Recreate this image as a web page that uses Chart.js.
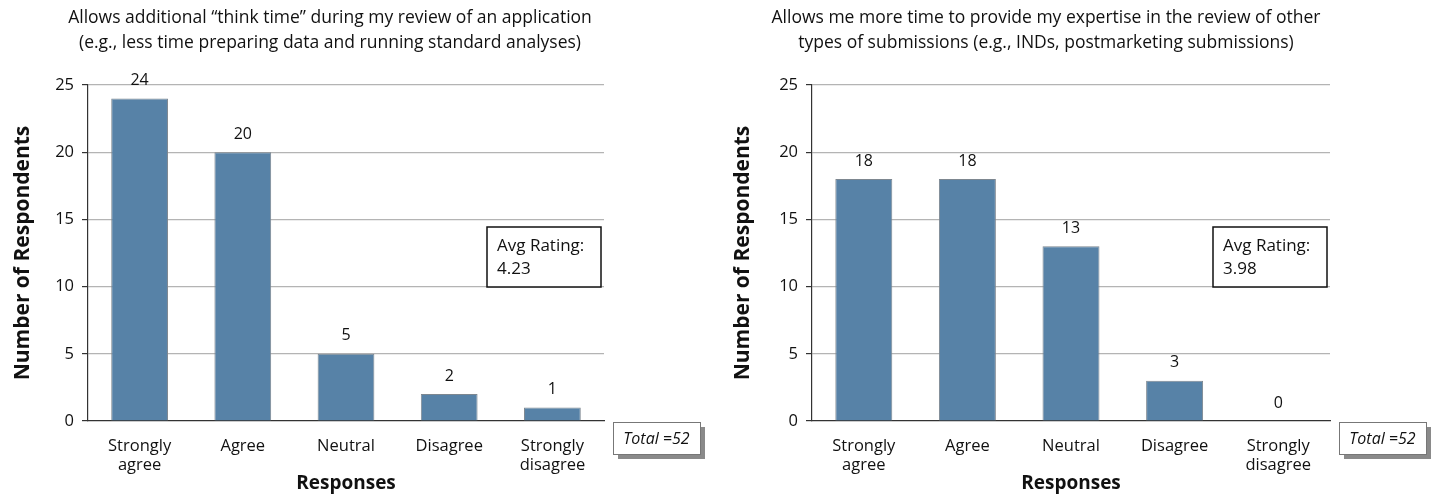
<!DOCTYPE html>
<html>
<head>
<meta charset="utf-8">
<script src="https://cdn.jsdelivr.net/npm/chart.js@4"></script>
<style>
  body { margin:0; background:#fff; }
  #wrap { position:relative; width:1440px; height:495px; }
  canvas { position:absolute; top:0; }
</style>
</head>
<body>
<div id="wrap">
  <canvas id="graph1" width="720" height="495" style="left:0"></canvas>
  <canvas id="graph2" width="720" height="495" style="left:720px"></canvas>
</div>
<script>
// data
var responses = [["Strongly","agree"], "Agree", "Neutral", "Disagree", ["Strongly","disagree"]];
var thinkTime = [24, 20, 5, 2, 1];
var moreTime = [18, 18, 13, 3, 0];
var title1 = ["Allows additional \u201cthink time\u201d during my review of an application", "(e.g., less time preparing data and running standard analyses)"];
var title2 = ["Allows me more time to provide my expertise in the review of other", "types of submissions (e.g., INDs, postmarketing submissions)"];
var avg1 = "4.23";
var avg2 = "3.98";
var total1 = 52;
var total2 = 52;

var FONT = "'Open Sans', 'Noto Sans', sans-serif";

var extras = {
  id: 'extras',
  afterDatasetsDraw: function(chart, args, opts) {
    var ctx = chart.ctx;
    var area = chart.chartArea;
    ctx.save();
    // value labels on top of bars
    ctx.fillStyle = '#111';
    ctx.font = '16px ' + FONT;
    ctx.textAlign = 'center';
    ctx.textBaseline = 'bottom';
    var meta = chart.getDatasetMeta(0);
    meta.data.forEach(function(bar, i) {
      ctx.fillText(chart.data.datasets[0].data[i], bar.x, bar.y - 10);
    });

    // title
    ctx.font = '17.5px ' + FONT;
    ctx.textBaseline = 'middle';
    ctx.fillText(opts.title[0], opts.titleX, 18);
    ctx.fillText(opts.title[1], opts.titleX, 43);

    // avg rating box
    var bx = area.right - 117, by = 227, bw = 114, bh = 60;
    ctx.fillStyle = '#fff';
    ctx.fillRect(bx, by, bw, bh);
    ctx.strokeStyle = '#111';
    ctx.lineWidth = 1.5;
    ctx.strokeRect(bx, by, bw, bh);
    ctx.fillStyle = '#111';
    ctx.textAlign = 'left';
    ctx.font = '17px ' + FONT;
    ctx.fillText('Avg Rating:', bx + 10, by + 19);
    ctx.fillText(opts.avg, bx + 10, by + 42);

    // total box with shadow
    var tx = area.right + 9, ty = 422, tw = 87, th = 32;
    ctx.fillStyle = '#8a8a8a';
    ctx.fillRect(tx + 5, ty + 5, tw, th);
    ctx.fillStyle = '#fff';
    ctx.fillRect(tx, ty, tw, th);
    ctx.strokeStyle = '#777';
    ctx.lineWidth = 1;
    ctx.strokeRect(tx + 0.5, ty + 0.5, tw, th);
    ctx.fillStyle = '#111';
    ctx.textAlign = 'center';
    ctx.font = 'italic 16px ' + FONT;
    ctx.fillText('Total =' + opts.total, tx + tw / 2, ty + th / 2 + 1);
    ctx.restore();
  }
};

function makeChart(el, values, title, titleX, avg, total, axisW, padRight) {
  var ctx = document.getElementById(el);
  return new Chart(ctx, {
    type: 'bar',
    data: {
      labels: responses,
      datasets: [{
        data: values,
        backgroundColor: '#5782a7',
        borderColor: '#7d8790',
        borderWidth: 1,
        barPercentage: 0.55,
        categoryPercentage: 1.0
      }]
    },
    options: {
      responsive: false,
      animation: false,
      layout: { padding: { top: 85, right: padRight, left: 0, bottom: 0 } },
      plugins: {
        legend: { display: false },
        tooltip: { enabled: false },
        extras: { title: title, titleX: titleX, avg: avg, total: total }
      },
      scales: {
        x: {
          grid: { display: false, drawTicks: false },
          border: { color: '#333', width: 1.2 },
          ticks: { color: '#111', font: { family: FONT, size: 16.5, lineHeight: 1.2 }, padding: 15, maxRotation: 0 },
          title: { display: true, text: 'Responses', color: '#111', font: { family: FONT, size: 19, weight: 'bold' }, padding: { top: 0, bottom: 0 } },
          afterFit: function(s) { s.height = 74; }
        },
        y: {
          min: 0, max: 25,
          ticks: { stepSize: 5, color: '#111', font: { family: FONT, size: 16.5 }, padding: 8 },
          grid: { color: function(c) { return c.tick.value === 0 ? 'rgba(0,0,0,0)' : '#b4b4b4'; }, tickColor: '#333', tickLength: 6, lineWidth: 1.2 },
          border: { color: '#333', width: 1.2 },
          title: { display: true, text: 'Number of Respondents', color: '#111', font: { family: FONT, size: 21, weight: 'bold' }, padding: { top: 10, bottom: 4 } },
          afterFit: function(s) { s.width = axisW; }
        }
      }
    },
    plugins: [extras]
  });
}

var graph1 = makeChart('graph1', thinkTime, title1, 330, avg1, total1, 88, 116);
var graph2 = makeChart('graph2', moreTime, title2, 326, avg2, total2, 92, 110);
</script>
</body>
</html>
